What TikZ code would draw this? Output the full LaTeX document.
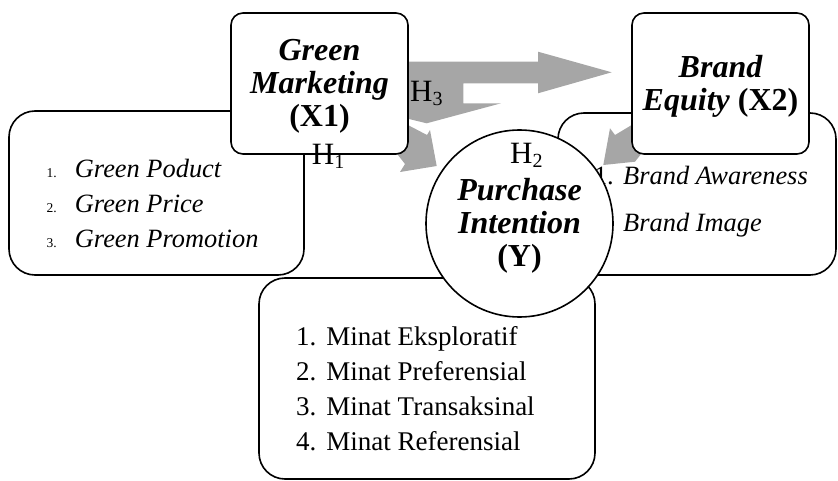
\documentclass[tikz,border=0pt]{standalone}
\usepackage{fontspec}
\setmainfont{Liberation Serif}
\usetikzlibrary{positioning}
\definecolor{arrowgray}{RGB}{166,166,166}
\tikzset{
  listbox/.style={draw,line width=1.6pt,rounded corners=26pt,fill=white,inner sep=0pt},
  varbox/.style={draw,line width=1.6pt,rounded corners=12pt,fill=white,inner sep=0pt,minimum width=177pt,minimum height=141pt},
  ycircle/.style={circle,draw,line width=1.6pt,fill=white,inner sep=0pt,minimum size=187pt},
  vartext/.style={align=center,inner sep=0pt,font=\fontsize{32}{33}\selectfont\bfseries\itshape},
  itemtext/.style={anchor=base west,inner sep=0pt,font=\fontsize{26.4}{30}\selectfont\itshape},
  mintext/.style={anchor=base west,inner sep=0pt,font=\fontsize{27}{30}\selectfont},
  smallnum/.style={anchor=base west,inner sep=0pt,font=\fontsize{13.5}{15}\selectfont},
  hlabel/.style={anchor=base west,inner sep=0pt,font=\fontsize{31}{31}\selectfont}
}
\newcommand{\hsub}[1]{H\raisebox{-4pt}{\fontsize{20}{20}\selectfont #1}}

\begin{document}
\begin{tikzpicture}[x=1pt,y=-1pt]
  \useasboundingbox (0,0) rectangle (838,481);
  % indicator boxes
  \node[listbox,minimum width=278pt,minimum height=162pt] (beind) at (697,194) {};
  \node[itemtext,font=\fontsize{26.4}{30}\selectfont,anchor=base east] (beno) at (614,185) {1.};
  \node[itemtext] (be1) at (623,185) {Brand Awareness};
  \node[itemtext] (be2) at (623,231.7) {Brand Image};
  \node[listbox,minimum width=295pt,minimum height=164pt] (gmind) at (156.5,193) {};
  \foreach \i/\t/\y in {1/Green Poduct/177.7, 2/Green Price/212.3, 3/Green Promotion/247.3}{
    \node[smallnum] (gmno\i) at (46.5,\y) {\i.};
    \node[itemtext] (gm\i) at (74.7,\y) {\t};
  }
  \node[listbox,minimum width=336pt,minimum height=201pt] (piind) at (427,378.5) {};
  \foreach \i/\t/\y in {1/Eksploratif/345, 2/Preferensial/380, 3/Transaksinal/415, 4/Referensial/450}
    \node[mintext] (pi\i) at (296,\y) {\i.\hspace{10pt}Minat \t};

  % block arrows
  \fill[arrowgray] (380,61.7) -- (538,61.7) -- (538,51.7) -- (611.7,72.3) -- (538,93.3) -- (538,83.3) -- (463.3,83.3) -- (463.3,103.3) -- (501,103.3) -- (426.7,123.3) -- (380,112) -- cycle;
  \fill[arrowgray] (360,100) -- (427,135) -- (430,130) -- (436.7,166) -- (400,172) -- (405,164) -- (372,122) -- cycle;
  \fill[arrowgray] (680,96) -- (615,135) -- (610,128.3) -- (603.3,165) -- (635,161.7) -- (660,130) -- cycle;

  % variables
  \node[varbox] (gm) at (319.5,83.5) {};
  \node[vartext] (gmname) at (319.5,86.6) {Green\\Marketing\\\upshape(X1)};
  \node[varbox] (be) at (720.5,83.5) {};
  \node[vartext] (bename) at (720.5,86) {Brand\\Equity {\upshape(X2)}};
  \node[ycircle] (pint) at (519.5,223.5) {};
  \node[vartext] (piname) at (519.5,226.3) {Purchase\\Intention\\\upshape(Y)};

  % hypotheses
  \node[hlabel] (h1) at (311.7,165) {\hsub{1}};
  \node[hlabel] (h2) at (510,163.3) {\hsub{2}};
  \node[hlabel] (h3) at (410,101.7) {\hsub{3}};
\end{tikzpicture}
\end{document}
